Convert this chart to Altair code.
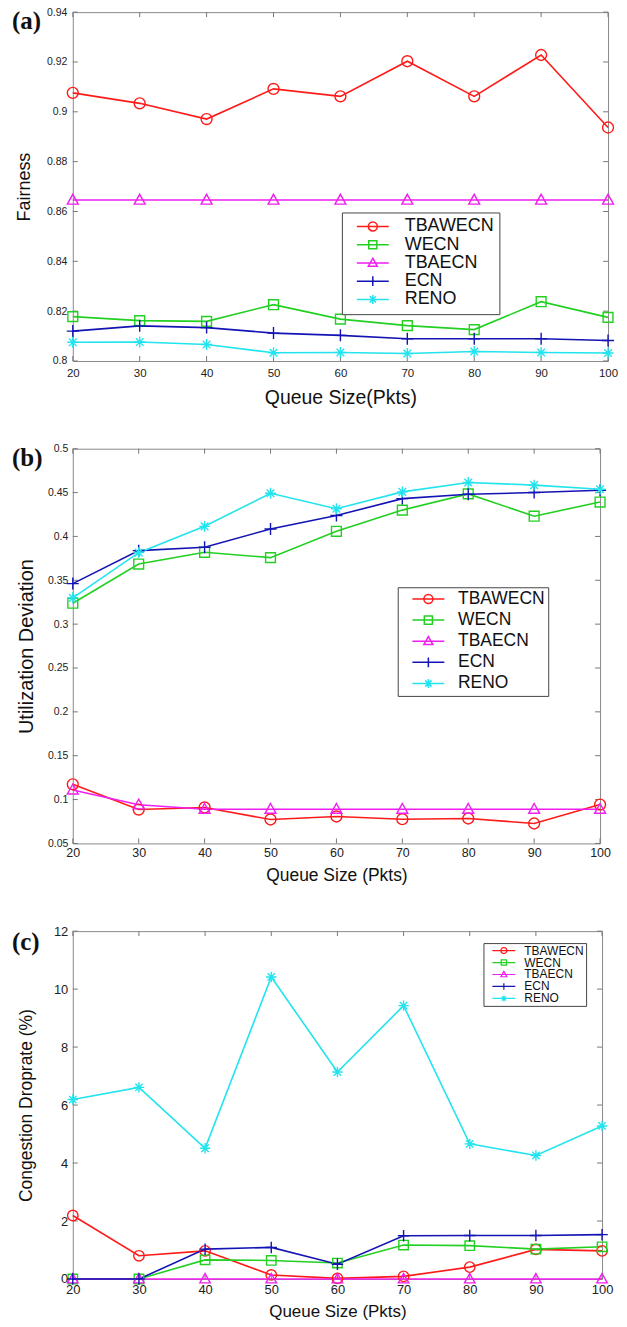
import altair as alt
import pandas as pd

# ---------------- data ----------------
queue = [20, 30, 40, 50, 60, 70, 80, 90, 100]
series = ["TBAWECN", "WECN", "TBAECN", "ECN", "RENO"]
colors = ["#ff1a1a", "#22d022", "#f01ef0", "#1414b4", "#22e4ee"]

# (a) Fairness
fair_tbawecn = [0.9076, 0.9034, 0.8971, 0.9092, 0.9062, 0.9203, 0.9062, 0.9228, 0.8937]
fair_wecn = [0.8178, 0.8162, 0.8159, 0.8226, 0.8168, 0.8142, 0.8126, 0.8238, 0.8175]
fair_tbaecn = [0.8646, 0.8646, 0.8646, 0.8646, 0.8646, 0.8646, 0.8646, 0.8646, 0.8646]
fair_ecn = [0.8120, 0.8141, 0.8134, 0.8112, 0.8103, 0.8089, 0.8089, 0.8089, 0.8082]
fair_reno = [0.8075, 0.8076, 0.8066, 0.8033, 0.8034, 0.8030, 0.8038, 0.8034, 0.8032]

# (b) Utilization Deviation
util_tbawecn = [0.1174, 0.0886, 0.0910, 0.0773, 0.0807, 0.0776, 0.0784, 0.0727, 0.0943]
util_wecn = [0.3238, 0.3685, 0.3819, 0.3758, 0.4058, 0.4300, 0.4485, 0.4231, 0.4392]
util_tbaecn = [0.1110, 0.0940, 0.0890, 0.0890, 0.0890, 0.0890, 0.0890, 0.0890, 0.0890]
util_ecn = [0.3462, 0.3838, 0.3877, 0.4085, 0.4238, 0.4431, 0.4481, 0.4500, 0.4527]
util_reno = [0.3300, 0.3815, 0.4115, 0.4492, 0.4315, 0.4508, 0.4615, 0.4585, 0.4538]

# (c) Congestion Droprate (%)
drop_tbawecn = [2.19, 0.80, 0.97, 0.14, 0.02, 0.09, 0.41, 1.02, 0.97]
drop_wecn = [0.00, 0.00, 0.66, 0.64, 0.55, 1.17, 1.15, 1.03, 1.11]
drop_tbaecn = [0.00, 0.00, 0.00, 0.00, 0.00, 0.00, 0.00, 0.00, 0.00]
drop_ecn = [0.00, 0.00, 1.03, 1.09, 0.51, 1.49, 1.50, 1.50, 1.53]
drop_reno = [6.19, 6.61, 4.51, 10.42, 7.14, 9.43, 4.66, 4.26, 5.28]

x_ticks = [20, 30, 40, 50, 60, 70, 80, 90, 100]
fair_ticks = [0.8, 0.82, 0.84, 0.86, 0.88, 0.9, 0.92, 0.94]
util_ticks = [0.05, 0.1, 0.15, 0.2, 0.25, 0.3, 0.35, 0.4, 0.45, 0.5]
drop_ticks = [0, 2, 4, 6, 8, 10, 12]

# ---------------- marker shapes ----------------
def circ(cx, r):
    return f"M{cx + r},0A{r},{r},0,1,1,{cx - r},0A{r},{r},0,1,1,{cx + r},0Z"

marker_paths = [
    circ(0, 1),
    "M-0.9,-0.9L0.9,-0.9L0.9,0.9L-0.9,0.9Z",
    "M0,-1.05L1,0.75L-1,0.75Z",
    "M-1.1,0L1.1,0M0,-1.1L0,1.1",
    "M-1,0L1,0M0,-1L0,1M-0.7,-0.7L0.7,0.7M-0.7,0.7L0.7,-0.7",
]


def legend_paths(x0, x1, r):
    c = (x0 + x1) / 2
    head = f"M-1,0L-1,0M{x0},0L{x1},0"
    s = r * 0.9
    return [
        head + circ(c, r),
        head + f"M{c - s},{-s}L{c + s},{-s}L{c + s},{s}L{c - s},{s}Z",
        head + f"M{c},{-r * 1.05}L{c + r},{r * 0.75}L{c - r},{r * 0.75}Z",
        head + f"M{c},{-r * 1.1}L{c},{r * 1.1}",
        head + f"M{c},{-r}L{c},{r}M{c - 0.7 * r},{-0.7 * r}L{c + 0.7 * r},{0.7 * r}"
               f"M{c - 0.7 * r},{0.7 * r}L{c + 0.7 * r},{-0.7 * r}",
    ]


def long_df(vals):
    rows = []
    for s, v in zip(series, vals):
        for q, y in zip(queue, v):
            rows.append({"q": q, "v": y, "s": s})
    return pd.DataFrame(rows)


FONT = "Liberation Sans"


def panel(vals, W, H, ydom, yticks, yfmt, ytitle, xtitle, tag, tag_y,
          ylab_fs, xlab_fs, ytitle_fs, xtitle_fs, ytitle_pad, xlab_pad, xtitle_pad, ylab_pad,
          lg_x, lg_y, lg_fs, lg_size, lg_pad, lg_row, lg_off, lg_geom, lg_sw, msize):
    df = long_df(vals)
    xenc = alt.X("q:Q", scale=alt.Scale(domain=[20, 100], nice=False, zero=False),
                 axis=alt.Axis(values=x_ticks, format="d", title=xtitle, grid=False, ticks=False,
                               domain=False, labelFontSize=xlab_fs, titleFontSize=xtitle_fs,
                               labelPadding=xlab_pad, titlePadding=xtitle_pad, labelFlush=False,
                               labelOverlap=False, labelFont=FONT, titleFont=FONT,
                               labelColor="#222", titleColor="#111", titleFontWeight="normal"))
    yenc = alt.Y("v:Q", scale=alt.Scale(domain=ydom, nice=False, zero=False),
                 axis=alt.Axis(values=yticks, format=yfmt, title=ytitle, grid=False, ticks=False,
                               domain=False, labelFontSize=ylab_fs, titleFontSize=ytitle_fs,
                               labelPadding=ylab_pad, titlePadding=ytitle_pad, labelFlush=False,
                               labelOverlap=False, labelFont=FONT, titleFont=FONT,
                               labelColor="#222", titleColor="#111", titleFontWeight="normal"))
    cscale = alt.Scale(domain=series, range=colors)
    base = alt.Chart(df)
    lines = base.mark_line(strokeWidth=1.6).encode(
        x=xenc, y=yenc, color=alt.Color("s:N", scale=cscale, legend=None),
        detail="s:N")
    points = base.mark_point(filled=False, size=msize, strokeWidth=1.4, opacity=1).encode(
        x=xenc, y=yenc, color=alt.Color("s:N", scale=cscale, legend=None),
        shape=alt.Shape("s:N", scale=alt.Scale(domain=series, range=marker_paths), legend=None))
    leg = alt.Legend(title=None, orient="none", legendX=lg_x, legendY=lg_y,
                     strokeColor="#444", fillColor="white", padding=lg_pad,
                     labelFont=FONT, labelFontSize=lg_fs, labelColor="#111",
                     symbolSize=lg_size, symbolStrokeWidth=lg_sw, rowPadding=lg_row,
                     labelOffset=lg_off, symbolOpacity=1, cornerRadius=0)
    legend_layer = base.transform_filter("false").mark_point(filled=False, opacity=1).encode(
        x=xenc, y=yenc,
        color=alt.Color("s:N", scale=cscale, legend=leg),
        shape=alt.Shape("s:N", scale=alt.Scale(domain=series, range=legend_paths(*lg_geom)), legend=leg))

    xt = alt.Chart(pd.DataFrame({"q": x_ticks}))
    yt = alt.Chart(pd.DataFrame({"v": yticks}))
    tick_col = "#777"
    top_t = xt.mark_rule(color=tick_col, strokeWidth=1).encode(x=xenc, y=alt.value(0), y2=alt.value(5))
    bot_t = xt.mark_rule(color=tick_col, strokeWidth=1).encode(x=xenc, y=alt.value(H), y2=alt.value(H - 5))
    left_t = yt.mark_rule(color=tick_col, strokeWidth=1).encode(y=yenc, x=alt.value(0), x2=alt.value(5))
    right_t = yt.mark_rule(color=tick_col, strokeWidth=1).encode(y=yenc, x=alt.value(W - 5), x2=alt.value(W))

    tag_txt = alt.Chart(pd.DataFrame({"t": [tag]})).mark_text(
        font="Liberation Serif", fontWeight="bold", fontSize=25, align="left",
        baseline="middle", color="#111").encode(
        x=alt.value(-61), y=alt.value(tag_y), text="t:N")

    return alt.layer(top_t, bot_t, left_t, right_t, lines, points, legend_layer, tag_txt).resolve_scale(
        color="independent", shape="independent").properties(width=W, height=H)


pa = panel([fair_tbawecn, fair_wecn, fair_tbaecn, fair_ecn, fair_reno], 537, 350,
           [0.8, 0.94], fair_ticks, ".2~f", "Fairness", "Queue Size(Pkts)", "(a)", 9,
           10.5, 11.5, 18, 19.5, 13, 7, 9, 6,
           270, 201, 18, 100, 5, 0.3, 40, (0.2, 6.6, 0.9), 1.5, 120)
pb = panel([util_tbawecn, util_wecn, util_tbaecn, util_ecn, util_reno], 529, 396,
           [0.05, 0.5], util_ticks, ".2~f", "Utilization Deviation", "Queue Size (Pkts)", "(b)", 9,
           10.5, 12.5, 20, 17.5, 11, 3, 8, 5,
           326, 139, 17.5, 100, 3, 2.2, 40, (0.6, 7.0, 0.9), 1.5, 120)
pc = panel([drop_tbawecn, drop_wecn, drop_tbaecn, drop_ecn, drop_reno], 531, 349,
           [0, 12], drop_ticks, "d", "Congestion Droprate (%)", "Queue Size (Pkts)", "(c)", 11,
           13, 13, 17.5, 17, 18, 5, 7, 5,
           412, 12, 12, 64, 1.5, -0.7, 27.5, (0.375, 6.125, 0.75), 1.2, 110)

chart = alt.vconcat(pa, pb, pc, spacing=88, bounds="flush").properties(
    padding={"left": 3, "top": -4, "right": 0, "bottom": 0}
).configure_view(stroke="#8a8a8a", strokeWidth=1)

chart.save("out.html", embed_options={"renderer": "svg", "actions": False})
